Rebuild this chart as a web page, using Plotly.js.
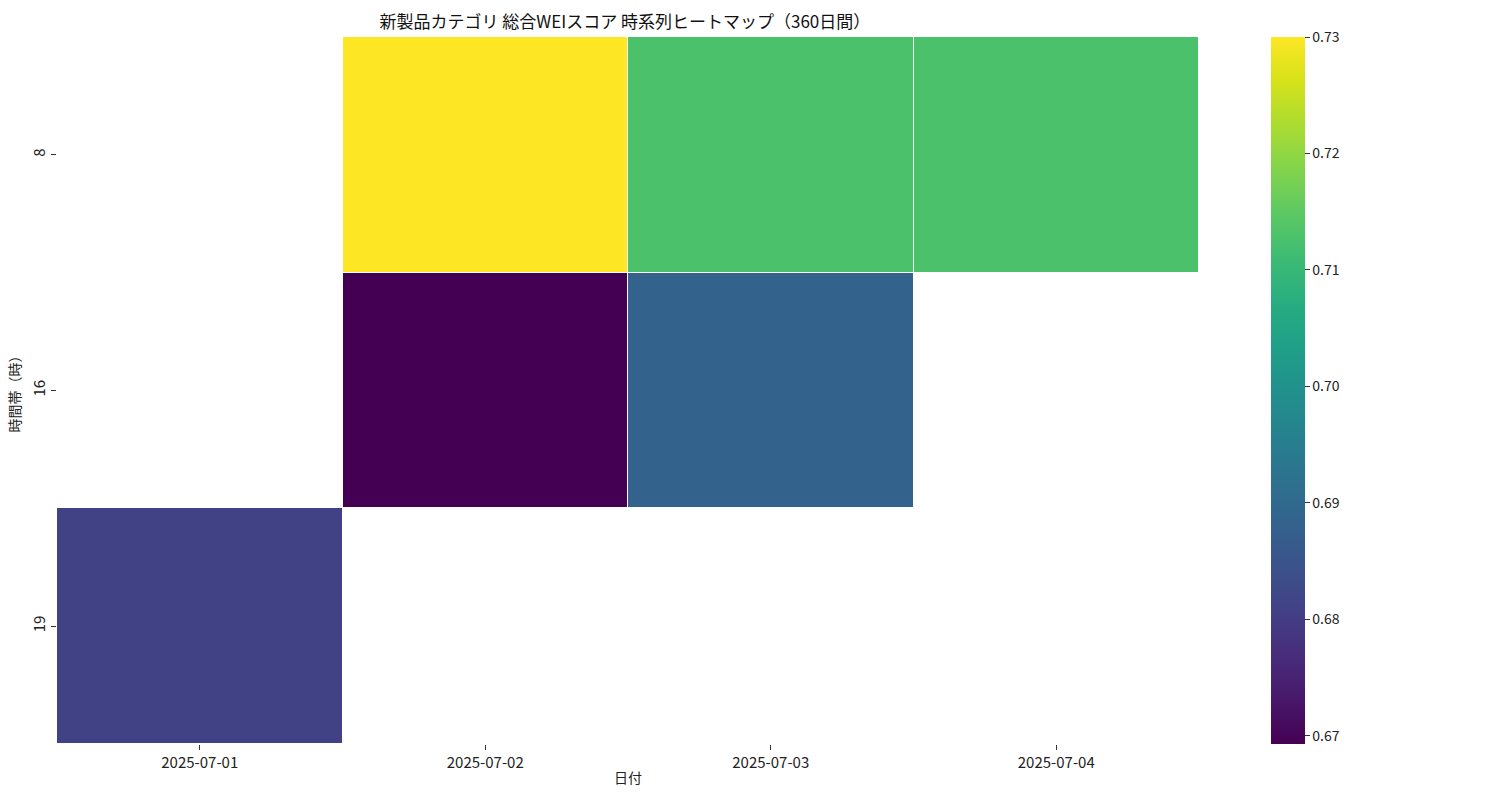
<!DOCTYPE html>
<html>
<head>
<meta charset="utf-8">
<script src="https://cdn.plot.ly/plotly-3.0.1.min.js"></script>
<style>
  html, body { margin: 0; padding: 0; background: #fff; }
  #chart { width: 1500px; height: 800px; }
</style>
</head>
<body>
<div id="chart"></div>
<script>
// Dates (columns) and hour slots (rows)
const dates = ['2025-07-01', '2025-07-02', '2025-07-03', '2025-07-04'];
const hours = ['8', '16', '19'];

// Overall WEI score per hour slot; null = no data
const score8  = [null, 0.7300, 0.7128, 0.7128];
const score16 = [null, 0.6693, 0.6882, null];
const score19 = [0.6810, null, null, null];

const colorTicks = [0.67, 0.68, 0.69, 0.70, 0.71, 0.72, 0.73];

const font = '"Noto Sans CJK JP", "Noto Sans", sans-serif';

const trace = {
  type: 'heatmap',
  x: dates,
  y: hours,
  z: [score8, score16, score19],
  colorscale: 'Viridis',
  zmin: 0.6693,
  zmax: 0.7300,
  xgap: 1,
  ygap: 1,
  hoverongaps: false,
  colorbar: {
    x: 1.063,
    xanchor: 'left',
    xpad: 0,
    y: 0.5,
    yanchor: 'middle',
    ypad: 0,
    len: 1,
    lenmode: 'fraction',
    thickness: 34,
    outlinewidth: 0,
    ticks: 'outside',
    ticklen: 5,
    tickcolor: '#333',
    tickvals: colorTicks,
    tickformat: '.2f',
    tickprefix: '\u2002',
    tickfont: { family: font, size: 14, color: '#222' }
  }
};

const layout = {
  width: 1500,
  height: 800,
  margin: { l: 57, r: 301, t: 37, b: 56 },
  paper_bgcolor: '#fff',
  plot_bgcolor: '#fff',
  font: { family: font, size: 15, color: '#222' },
  title: {
    text: '新製品カテゴリ 総合WEIスコア 時系列ヒートマップ（360日間）',
    x: 0.4166, xanchor: 'center',
    y: 0.973, yanchor: 'middle',
    font: { family: font, size: 17, color: '#111' }
  },
  xaxis: {
    type: 'category',
    showgrid: false, zeroline: false, showline: false,
    ticks: 'outside', ticklen: 5, tickcolor: '#333',
    tickfont: { size: 15 },
    title: { text: '日付', standoff: 2, font: { size: 14 } }
  },
  yaxis: {
    type: 'category',
    autorange: 'reversed',
    showgrid: false, zeroline: false, showline: false,
    ticks: 'outside', ticklen: 5, tickcolor: '#333',
    tickangle: -90,
    tickfont: { size: 15 },
    title: { text: '時間帯（時）', standoff: 4, font: { size: 14 } }
  }
};

Plotly.newPlot('chart', [trace], layout, { displayModeBar: false });
</script>
</body>
</html>
